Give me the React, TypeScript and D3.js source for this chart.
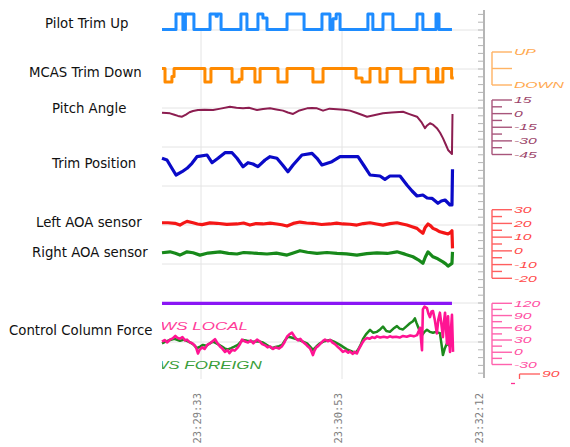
import React from "react";
import * as d3 from "d3";

type P = [number, number];

// ---------- data ----------
// time in seconds since 23:29:11
const timeTickLabels = ["23:29:33", "23:30:53", "23:32:12"];
const timeTickSecs = [22, 101.5, 181];

const seriesLabels = [
  "Pilot Trim Up",
  "MCAS Trim Down",
  "Pitch Angle",
  "Trim Position",
  "Left AOA sensor",
  "Right AOA sensor",
  "Control Column Force",
];

// 1 = switch active
const pilotTrimUp: P[] = [
  [0, 0], [7.9, 1], [11.8, 0], [13.2, 1], [18, 0], [27.1, 1], [30.5, 0.85], [31.2, 1], [33.3, 0],
  [44.5, 1], [47.9, 0], [54.1, 1], [56.9, 0.75], [59.2, 0], [70.5, 1], [80.1, 0],
  [90.2, 1], [94.7, 0], [96.4, 0.7], [98.2, 1], [100.4, 0], [116.1, 1], [118.9, 0],
  [124.6, 1], [130.2, 0], [143.8, 1], [147.1, 0], [154.5, 1], [156.2, 0], [163.5, 0],
];

const mcasTrimDown: P[] = [
  [0, 0], [1.7, 1], [5.6, 0.6], [6.8, 0], [24.2, 1], [27.6, 0], [39.5, 1], [43.5, 0.8], [45.1, 0],
  [52.4, 1], [55.3, 0], [65.4, 1], [70.5, 0], [85.1, 1], [90.8, 0], [109.4, 0.7],
  [112.8, 1], [117.3, 0], [122.9, 1], [126.9, 0], [134.7, 1], [142.6, 0], [150, 1],
  [154.8, 0], [155.5, 1], [158.4, 0], [163.3, 0.7], [164.5, 0.7],
];

// degrees
const pitchAngle: P[] = [
  [0, 1.0], [2.5, 0.6], [4.5, 0.3], [7, -1.2], [9, -2.5], [11.3, -3.4], [13.5, -1], [15.5, 1.5],
  [17.5, 2.9], [20.3, 4.0], [24, 4.2], [28.8, 4.0], [33, 5.5], [38.3, 7.6], [42, 6.5],
  [45.7, 5.8], [49, 6.4], [53.6, 4.0], [57, 5.2], [60.9, 5.8], [64.5, 4.6], [68.2, 3.3],
  [71, 1.2], [73.9, -0.4], [77.5, 3.5], [81.8, 5.8], [84.5, 6.2], [87.4, 5.8], [90.8, 3.3],
  [94.5, 5.5], [98.7, 4.8], [102.5, 4.2], [106, 3.3], [109.5, 1.0], [113, -1.5],
  [115.6, -3.4], [119.5, -1.8], [124.6, 0.3], [129.5, 1.2], [135.9, 2.1], [139.5, -0.5],
  [143.8, -3.4], [146.5, -10], [148.3, -16], [149.5, -13], [151.1, -10.5], [153, -12.5],
  [155, -16], [156.8, -21], [158.4, -27], [160, -34], [161.3, -40], [163.5, -44.4],
  [163.8, -0.4],
];

// trim units
const trimPosition: P[] = [
  [0, 7.17], [2.8, 7.0], [5.5, 6.2], [7.9, 5.5], [11.3, 5.83], [14.1, 6.17], [16.9, 6.67],
  [19.7, 7.33], [25.4, 7.5], [28.2, 6.73], [31.6, 7.17], [35.5, 7.73], [39.5, 7.73],
  [42.3, 7.17], [45.7, 6.33], [48.5, 6.73], [51.3, 6.6], [54.1, 6.33], [58.1, 7.0],
  [60.9, 7.33], [64.8, 7.17], [68, 6.5], [71, 5.83], [73.9, 6.5], [78.9, 7.5], [84.6, 7.67],
  [87.4, 7.17], [90.2, 6.5], [95.8, 6.83], [100.4, 7.33], [110.5, 7.33], [114, 6.4],
  [117.3, 5.5], [122.9, 5.4], [125.7, 5.07], [128.5, 5.4], [134.2, 5.4], [138.1, 4.5],
  [141, 3.9], [143.8, 3.4], [147.1, 3.5], [149.5, 3.2], [152.2, 3.17], [155.6, 2.67],
  [157.5, 2.9], [159.6, 3.0], [162.4, 2.5], [163.5, 2.5], [163.8, 6.07],
];

// degrees
const leftAOA: P[] = [
  [0, 20.5], [3.4, 20.5], [7.3, 20.1], [10.1, 18.8], [12, 20.2], [14.1, 21.5], [17.5, 20.5],
  [20, 19.6], [22.6, 19.1], [27, 20.4], [31, 20.1], [36.5, 19.3], [42.3, 19.6], [46, 20.3],
  [49.6, 18.8], [53, 19.9], [56.9, 19.6], [61, 20.2], [64.8, 19.6], [67.5, 19.0],
  [70.5, 18.1], [74, 20.0], [77.8, 21.0], [81.5, 20.3], [85.1, 20.1], [90, 19.2],
  [94.7, 19.6], [98.5, 20.2], [102, 19.6], [106, 19.4], [109.9, 18.8], [113.5, 19.9],
  [117.3, 20.5], [121, 19.6], [124.6, 18.8], [128.5, 19.8], [132.5, 20.5], [135.5, 19.6],
  [138.1, 18.8], [141, 17.6], [143.8, 16.4], [145.5, 14.4], [147.1, 12.8], [148.3, 16.8],
  [150, 19.6], [151.5, 18.2], [152.8, 16.4], [155, 15.2], [156.7, 13.9], [159, 13.1],
  [161.3, 12.3], [162.5, 13.2], [163.5, 14.7], [163.8, 1.8],
];

const rightAOA: P[] = [
  [0, -1.4], [4.5, -0.7], [7.5, -1.8], [10.1, -3.1], [14.1, -0.7], [17.5, -1.4],
  [21.4, -3.1], [26, -1.6], [32.7, -0.7], [37.5, -1.8], [42.3, -2.3], [46, -1.2],
  [49.6, -1.4], [54, -1.9], [59.2, -2.3], [64.5, -1.6], [70.5, -3.1], [74, -1.5],
  [77.8, 0.1], [82, -1.0], [87.4, -1.8], [93, -1.2], [98.7, -1.8], [104, -2.2],
  [109.9, -3.1], [115.5, -2.0], [121.2, -1.4], [127, -1.9], [132.5, -0.7], [137, -2.4],
  [141.5, -4.3], [144.5, -6.5], [147.1, -9.1], [148.5, -4.5], [150, -0.7], [152.8, -4.3],
  [155.5, -5.8], [158.4, -8.0], [160, -9.5], [161.3, -11.1], [163.5, -9.1], [163.8, -0.7],
];

// constant trace on the force channel
const purpleTrace: P[] = [[0, 120], [163.5, 120]];

// control column force (lbs)
const cwsLocal: P[] = [
  [0, 26], [1.5, 30], [3, 24], [4.5, 31], [6, 34], [7.5, 40], [8.5, 36], [10, 33], [11.5, 37],
  [13, 29], [14.1, 31], [15.5, 25], [17, 22], [18.6, 16], [19.5, 8], [20.3, -3], [21.2, 6],
  [22.6, 12], [24, 8], [25.5, 18], [27.1, 22], [28.5, 27], [29.9, 32], [31, 24], [32.7, 14],
  [34, 9], [35.5, 1], [37, 5], [38, -2], [39.5, 6], [41, 4], [42.8, 12], [44, 20], [45.1, 31],
  [46.5, 27], [48.5, 24], [50, 29], [51.5, 22], [53.6, 31], [55, 27], [56.5, 20], [58.1, 17],
  [59.5, 12], [61, 14], [62.6, 8], [64, 12], [66, 9], [67.7, 15], [69, 24], [70.5, 38],
  [71.8, 44], [73.3, 48], [74.5, 40], [75.5, 34], [76.7, 29], [78, 33], [79.5, 25], [81, 20],
  [82.3, 14], [83.4, 10], [84.3, 2], [85.1, -7], [86, 4], [87, 12], [88, 15], [89.5, 22],
  [90.8, 28], [91.9, 31], [93.5, 27], [95, 30], [95.8, 25], [97.5, 20], [99.2, 13], [100.5, 8],
  [102, 1], [103.5, 4], [105, -1], [106, 2], [107.5, -4], [108.5, 1], [109.9, -3], [111, 8],
  [112.8, 22], [114, 30], [115.6, 35], [117, 33], [118.5, 37], [120, 35], [121.2, 39],
  [123, 36], [125, 38], [127, 36], [128.5, 39], [130, 37], [132, 38], [134, 36], [135.9, 40],
  [138, 38], [140, 41], [142, 39], [143.8, 42], [144.6, 50], [145.5, 60], [146.1, 30],
  [146.6, 5], [147.1, 105], [148, 112], [149.4, 108], [150.2, 95], [151.1, 86], [152, 100],
  [152.8, 101], [153.8, 80], [155, 46], [155.8, 80], [156.7, 97], [157.5, 70], [158.4, 37],
  [159, 75], [159.6, 97], [160.2, 55], [160.7, 21], [161.3, 88], [161.8, 40], [162.4, 1],
  [163, 60], [163.5, 92], [164.1, 1],
];

const cwsForeign: P[] = [
  [0, 22], [2, 26], [4.5, 30], [7, 33], [10.1, 28], [12.5, 31], [15.8, 24], [17.5, 20],
  [19.7, 10], [21.5, 14], [23.1, 18], [25, 16], [27, 22], [28.8, 26], [31, 21], [33.8, 14],
  [35.5, 9], [37.2, 7], [39, 10], [40.5, 13], [42.8, 18], [44, 24], [45.7, 30], [48, 28],
  [51.3, 26], [54, 27], [56.9, 24], [59, 18], [60.5, 14], [62, 10], [64, 13], [66, 15],
  [67.7, 18], [69.5, 30], [71, 38], [73, 36], [76.1, 32], [78.5, 28], [81.8, 22], [83.5, 14],
  [85.1, 6], [87, 14], [89.1, 22], [91.5, 27], [94.7, 30], [97, 26], [100.4, 18], [102.5, 12],
  [104.3, 7], [106, 4], [107.7, 1], [109, -2], [110.5, 6], [112, 18], [113.3, 32], [115, 44],
  [117.3, 55], [119, 48], [121.2, 50], [123, 56], [124.6, 63], [126.5, 52], [128.5, 50],
  [130.5, 58], [132.5, 64], [134, 58], [135.9, 56], [138, 64], [139.8, 71], [141.5, 76],
  [142.6, 83], [143.5, 72], [144.3, 63], [145.5, 50], [146.6, 42], [148, 50], [149.4, 55],
  [151, 50], [152.8, 48], [154.5, 50], [156.7, 47], [157.6, 20], [158.4, -7], [159.5, 10],
  [160.7, 22], [162, 16], [163.5, 18],
];

const trimDirLabels = ["UP", "", "DOWN"];
const pitchTicks = [15, 0, -15, -30, -45];
const aoaTicks = [30, 20, 10, 0, -10, -20];
const forceTicks = [120, 90, 60, 30, 0, -30];
const cwsLabels = ["CWS LOCAL", "CWS FOREIGN"];

// ---------- drawing ----------
const STRETCH = "Liberation Sans, Arial, sans-serif";

function RightAxis(props: {
  ys: number[];
  labels: string[];
  color: string;
  minor: boolean;
}) {
  const { ys, labels, color, minor } = props;
  const x0 = 492;
  const mids: number[] = [];
  if (minor) for (let i = 0; i < ys.length - 1; i++) mids.push((ys[i] + ys[i + 1]) / 2);
  return (
    <g>
      <g stroke={color} strokeWidth={1.4} opacity={0.75}>
        <line x1={x0} x2={x0} y1={d3.min(ys)} y2={d3.max(ys)} />
        {ys.map((y, i) => (
          <line key={"M" + i} x1={x0} x2={x0 + 20} y1={y} y2={y} />
        ))}
        {mids.map((y, i) => (
          <line key={"m" + i} x1={x0} x2={x0 + 10} y1={y} y2={y} />
        ))}
      </g>
      {labels.map((l, i) => (
        <text
          key={"t" + i}
          transform={`translate(${x0 + 22},${ys[i] + 3.2}) scale(1.75,1)`}
          fontFamily={STRETCH}
          fontStyle="italic"
          fontSize={9}
          fill={color}
          opacity={0.85}
        >
          {l}
        </text>
      ))}
    </g>
  );
}

export default function App() {
  const x = d3.scaleLinear().domain([0, 181]).range([162, 483]);
  const yPilot = d3.scaleLinear().domain([0, 1]).range([29.5, 14]);
  const yMcas = d3.scaleLinear().domain([0, 1]).range([68.5, 82]);
  const yDir = d3.scaleLinear().domain([0, 2]).range([52, 85]);
  const yPitch = d3.scaleLinear().domain([-45, 15]).range([154.5, 100]);
  const yTrim = d3.scaleLinear().domain([2, 8]).range([210, 150]);
  const yAoa = d3.scaleLinear().domain([-20, 30]).range([278.3, 209.7]);
  const yForce = d3.scaleLinear().domain([-30, 120]).range([364.5, 303.3]);

  const mk = (ys: d3.ScaleLinear<number, number>, curve: d3.CurveFactory = d3.curveLinear) =>
    d3.line<P>().x((d) => x(d[0])).y((d) => ys(d[1])).curve(curve);

  const gridRows = d3.range(9).map((i) => 30 + i * 39);
  const axisTicks = d3.range(-2, 45).map((k) => 30 + k * 7.8).filter((y) => y > 11 && y < 378);

  const labelPos: [number, number][] = [
    [45, 23], [29, 72], [52, 108], [52, 163], [36, 222], [32, 252], [9, 330],
  ];

  return (
    <svg
      width={570}
      height={447}
      style={{ position: "absolute", left: 0, top: 0, background: "#fff" }}
    >
      <defs>
        <clipPath id="plotclip">
          <rect x={162} y={0} width={300} height={447} />
        </clipPath>
      </defs>
      {/* grid */}
      <g stroke="#e4e4e4" strokeWidth={1}>
        {gridRows.map((y, i) => (
          <line key={i} x1={162} x2={484} y1={y} y2={y} />
        ))}
        {timeTickSecs.slice(0, 2).map((t, i) => (
          <line key={"v" + i} x1={x(t)} x2={x(t)} y1={30} y2={379} />
        ))}
      </g>
      {/* right gray time axis */}
      <g stroke="#b5b5b5">
        <line x1={484} x2={484} y1={10} y2={378} strokeWidth={2} />
        {axisTicks.map((y, i) => (
          <line key={i} x1={478} x2={484} y1={y} y2={y} strokeWidth={1} />
        ))}
      </g>

      {/* series */}
      <g fill="none" strokeLinejoin="round" strokeLinecap="butt">
        <path d={mk(yPilot, d3.curveStepAfter)(pilotTrimUp) || ""} stroke="#1e8cff" strokeWidth={3} />
        <path d={mk(yMcas, d3.curveStepAfter)(mcasTrimDown) || ""} stroke="#ff8a00" strokeWidth={3} />
        <path d={mk(yPitch)(pitchAngle) || ""} stroke="#8c1d50" strokeWidth={2} />
        <path d={mk(yTrim)(trimPosition) || ""} stroke="#0a0ac8" strokeWidth={3.2} />
        <path d={mk(yAoa)(leftAOA) || ""} stroke="#f41616" strokeWidth={3.2} />
        <path d={mk(yAoa)(rightAOA) || ""} stroke="#17891a" strokeWidth={3.2} />
        <path d={mk(yForce)(purpleTrace) || ""} stroke="#8a16f5" strokeWidth={3.2} />
        <path d={mk(yForce)(cwsForeign) || ""} stroke="#1d8a1d" strokeWidth={2.5} />
        <path d={mk(yForce)(cwsLocal) || ""} stroke="#ff1493" strokeWidth={2.6} />
      </g>

      {/* CWS labels clipped to plot */}
      <g clipPath="url(#plotclip)" fontFamily={STRETCH} fontStyle="italic" fontSize={10}>
        <text transform={`translate(148,330) scale(1.7,1)`} fill="#ff3d9a">
          {cwsLabels[0]}
        </text>
        <text transform={`translate(140,369) scale(1.7,1)`} fill="#3a9e3a">
          {cwsLabels[1]}
        </text>
      </g>

      {/* right axes */}
      <RightAxis ys={trimDirLabels.map((_, i) => yDir(i))} labels={trimDirLabels} color="#ff9a30" minor={false} />
      <RightAxis ys={pitchTicks.map((v) => yPitch(v))} labels={pitchTicks.map(String)} color="#8c1d50" minor={true} />
      <RightAxis ys={aoaTicks.map((v) => yAoa(v))} labels={aoaTicks.map(String)} color="#ff2a2a" minor={true} />
      <RightAxis ys={forceTicks.map((v) => yForce(v))} labels={forceTicks.map(String)} color="#ff2e92" minor={true} />
      {/* partial extra axis fragment at bottom */}
      <g stroke="#ff3030" strokeWidth={1.3} opacity={0.8}>
        <line x1={519.5} x2={519.5} y1={374} y2={379} />
        <line x1={519.5} x2={540} y1={374} y2={374} />
      </g>
      <text transform="translate(542,377) scale(1.75,1)" fontFamily={STRETCH} fontStyle="italic" fontSize={9} fill="#ff3030" opacity={0.85}>
        90
      </text>
      <line x1={511} x2={515} y1={383.5} y2={383.5} stroke="#ff2e92" strokeWidth={1.3} />

      {/* left labels */}
      <g fontFamily="DejaVu Sans, Verdana, sans-serif" fontSize={13.3} fill="#111">
        {seriesLabels.map((s, i) => (
          <text key={i} x={labelPos[i][0]} y={labelPos[i][1] + 4.6}>
            {s}
          </text>
        ))}
      </g>

      {/* time labels */}
      <g fontFamily="DejaVu Sans Mono, monospace" fontSize={10.5} fill="#808080">
        {timeTickSecs.map((t, i) => (
          <text key={i} transform={`translate(${x(t)},393) rotate(-90)`} textAnchor="end">
            {timeTickLabels[i]}
          </text>
        ))}
      </g>
    </svg>
  );
}
